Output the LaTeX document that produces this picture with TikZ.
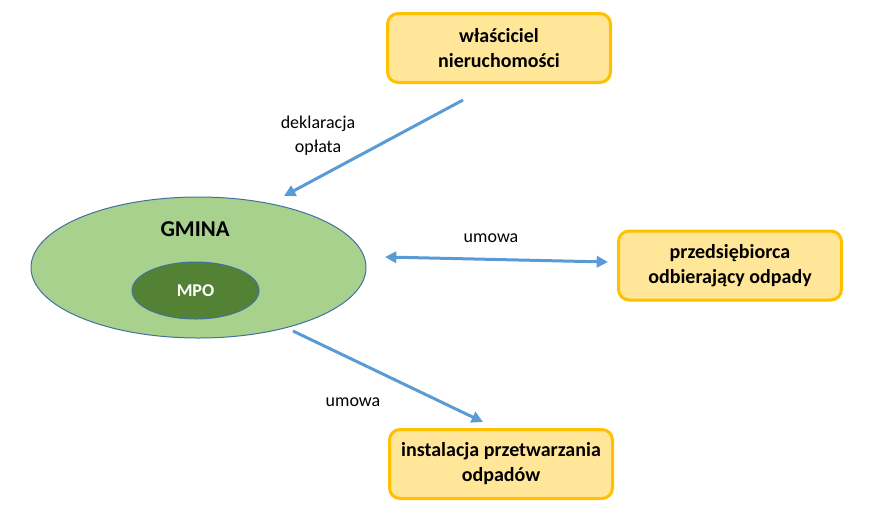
\documentclass[tikz,border=0pt]{standalone}
\usepackage{fontspec}
\setmainfont{Carlito}
\usetikzlibrary{positioning, arrows.meta, shapes.geometric, calc}

\definecolor{boxfill}{HTML}{FFE699}
\definecolor{boxline}{HTML}{FFC000}
\definecolor{gminafill}{HTML}{A9D18E}
\definecolor{mpofill}{HTML}{548235}
\definecolor{ringline}{HTML}{41719C}
\definecolor{flowblue}{HTML}{5B9BD5}

\tikzset{
    partybox/.style={draw=boxline, fill=boxfill, line width=2.25pt,
        rounded corners=8pt, minimum width=167.25pt, minimum height=51.75pt,
        align=center, font=\fontsize{15}{18.75}\selectfont\bfseries},
    flow/.style={draw=flowblue, line width=2.25pt,
        -{Triangle[length=8.5pt, width=8.5pt]}},
    flowlabel/.style={align=center, font=\fontsize{13.5}{18}\selectfont}
}

\begin{document}
\begin{tikzpicture}[x=0.75pt, y=-0.75pt]
    \useasboundingbox (0,0) rectangle (873,522);

    % parties
    \node[partybox] (owner)     at (499,48)    {właściciel\\nieruchomości};
    \node[partybox] (collector) at (730,265.5) {przedsiębiorca\\odbierający odpady};
    \node[partybox] (plant)     at (501,464)   {instalacja przetwarzania\\odpadów};

    % gmina with mpo inside
    \node[ellipse, draw=ringline, fill=gminafill, line width=0.75pt, inner sep=0,
        minimum width=251.25pt, minimum height=105.75pt] (gmina) at (198.5,267.5) {};
    \node[ellipse, draw=ringline, fill=mpofill, line width=0.75pt, inner sep=0,
        minimum width=95.25pt, minimum height=42.75pt] (mpo) at (195.5,290.5) {};
    \node[font=\fontsize{17}{20}\selectfont\bfseries] (gminatext) at (195,229) {GMINA};
    \node[font=\fontsize{13.5}{16}\selectfont\bfseries, text=white] (mpotext) at (mpo) {MPO};

    % arrow end points
    \coordinate (ownerout)  at (463,100);
    \coordinate (gminain)   at (284,196);
    \coordinate (gminaleft) at (385,257);
    \coordinate (collin)    at (608,262);
    \coordinate (gminaout)  at (293,331);
    \coordinate (plantin)   at (483,422);

    % flows
    \draw[flow] (ownerout) -- (gminain);
    \draw[flow, {Triangle[length=8.5pt, width=8.5pt]}-{Triangle[length=8.5pt, width=8.5pt]}]
        (gminaleft) -- (collin);
    \draw[flow] (gminaout) -- (plantin);

    % labels
    \node[flowlabel] (declabel) at (318,136) {deklaracja\\opłata};
    \node[flowlabel] (contract1) at (491,238) {umowa};
    \node[flowlabel] (contract2) at (353,402) {umowa};
\end{tikzpicture}
\end{document}
